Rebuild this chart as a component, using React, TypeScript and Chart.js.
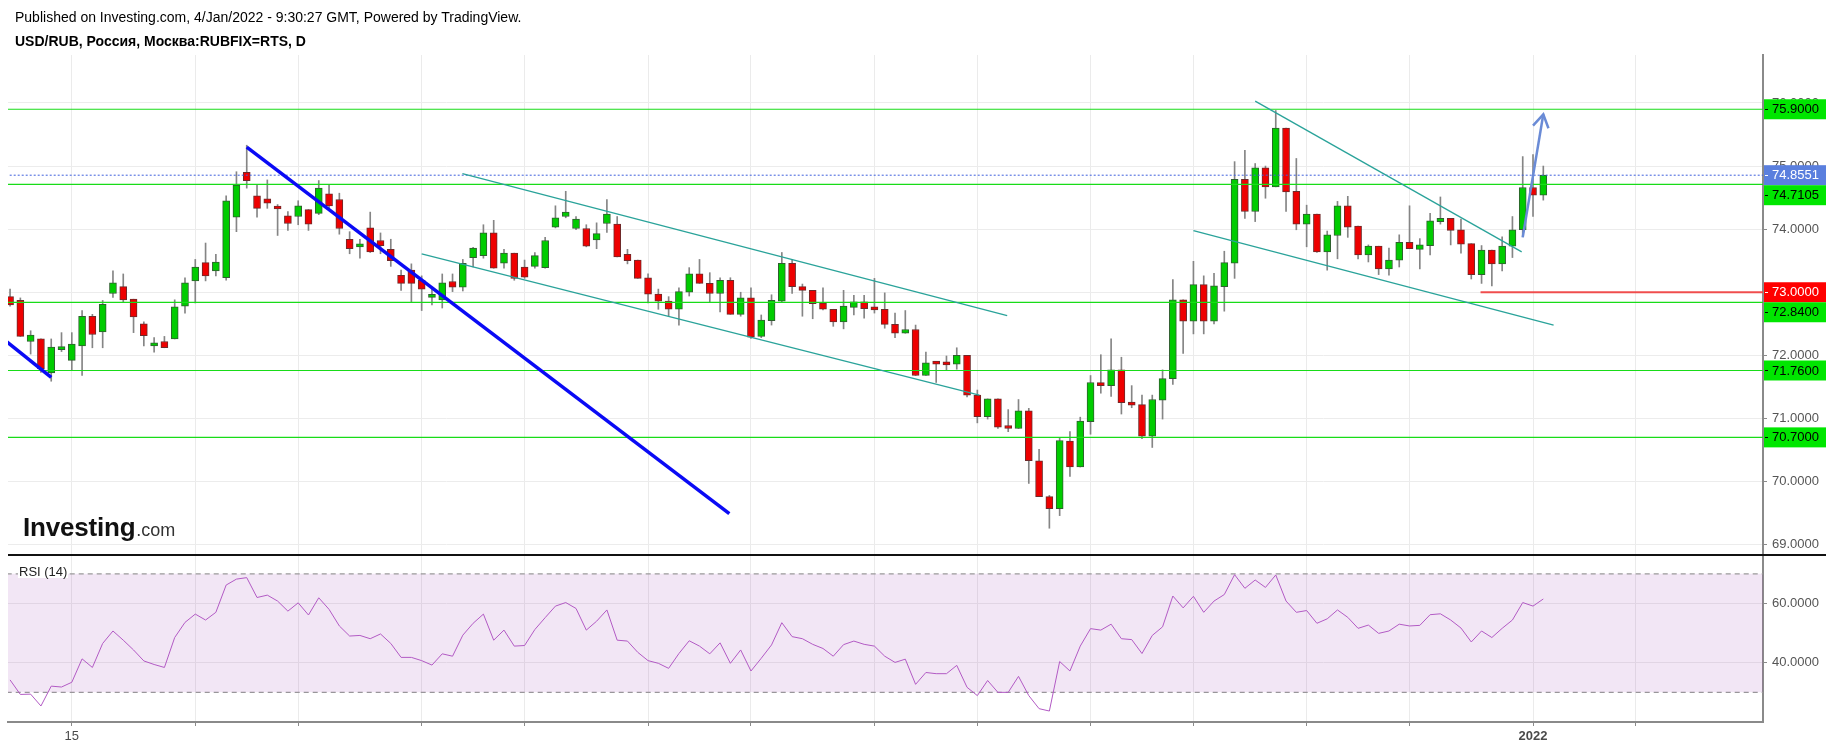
import React, { useEffect, useRef } from 'react';
import { Chart, registerables } from 'chart.js';

Chart.register(...registerables);

const FONT = '"Liberation Sans", Arial, Helvetica, sans-serif';

// ---------- data (daily candles, index 0 = first visible bar, last = 4 Jan 2022) ----------
const OPEN = [
  72.93, 72.87, 72.22, 72.26, 71.72, 72.09, 71.92, 72.15, 72.62, 72.37,
  72.98, 73.09, 72.89, 72.50, 72.15, 72.22, 72.26, 72.78, 73.18, 73.47,
  73.34, 73.23, 74.19, 74.90, 74.53, 74.48, 74.36, 74.21, 74.20, 74.31,
  74.25, 74.56, 74.47, 73.84, 73.72, 74.02, 73.82, 73.68, 73.27, 73.35,
  73.19, 72.92, 72.88, 73.17, 73.08, 73.55, 73.58, 73.94, 73.46, 73.62,
  73.40, 73.41, 73.39, 74.03, 74.20, 74.01, 74.01, 73.83, 74.09, 74.08,
  73.60, 73.51, 73.23, 72.97, 72.86, 72.73, 73.00, 73.29, 73.14, 72.98,
  73.19, 72.65, 72.91, 72.30, 72.55, 72.86, 73.46, 73.09, 73.03, 72.83,
  72.73, 72.53, 72.76, 72.85, 72.74, 72.73, 72.49, 72.35, 72.41, 71.68,
  71.88, 71.86, 71.86, 72.00, 71.37, 71.03, 71.31, 70.88, 70.84, 71.12,
  70.33, 69.76, 69.57, 70.64, 70.23, 70.95, 71.56, 71.52, 71.77, 71.25,
  71.22, 70.72, 71.29, 71.63, 72.88, 72.54, 73.12, 72.54, 73.09, 73.46,
  74.79, 74.28, 74.97, 74.67, 75.60, 74.60, 74.08, 74.24, 73.64, 73.90,
  74.37, 74.05, 73.59, 73.73, 73.37, 73.51, 73.79, 73.68, 73.74, 74.12,
  74.17, 73.99, 73.77, 73.28, 73.67, 73.45, 73.73, 73.99, 74.66, 74.54,
];
const HIGH = [
  73.05, 72.91, 72.39, 72.26, 72.26, 72.36, 72.36, 72.71, 72.65, 72.87,
  73.34, 73.29, 72.89, 72.53, 72.28, 72.30, 72.88, 73.23, 73.52, 73.78,
  73.60, 74.53, 74.91, 75.33, 74.70, 74.78, 74.39, 74.28, 74.45, 74.31,
  74.77, 74.70, 74.57, 73.96, 73.84, 74.27, 73.94, 73.84, 73.35, 73.45,
  73.26, 73.05, 73.29, 73.29, 73.52, 73.71, 74.07, 74.14, 73.68, 73.62,
  73.51, 73.63, 73.87, 74.37, 74.60, 74.20, 74.07, 74.10, 74.47, 74.20,
  73.68, 73.51, 73.29, 73.05, 72.93, 73.07, 73.39, 73.52, 73.31, 73.23,
  73.23, 73.00, 73.07, 72.64, 72.96, 73.63, 73.52, 73.13, 73.03, 73.07,
  72.73, 73.03, 72.95, 72.95, 73.22, 72.99, 72.67, 72.71, 72.48, 72.05,
  71.88, 71.99, 72.12, 72.00, 71.45, 71.31, 71.31, 71.14, 71.30, 71.16,
  70.51, 69.78, 70.69, 70.79, 71.02, 71.68, 72.01, 72.26, 71.97, 71.52,
  71.37, 71.37, 71.77, 73.20, 72.88, 73.49, 73.26, 73.30, 73.65, 75.07,
  75.25, 75.04, 75.00, 75.88, 75.60, 75.12, 74.38, 74.24, 73.97, 74.44,
  74.52, 74.05, 73.75, 73.73, 73.70, 73.91, 74.37, 73.85, 74.25, 74.51,
  74.17, 74.16, 73.77, 73.74, 73.67, 73.88, 74.20, 75.15, 75.18, 75.00,
];
const LOW = [
  72.78, 72.30, 72.02, 71.73, 71.59, 72.06, 71.76, 71.68, 72.12, 72.12,
  72.92, 72.85, 72.36, 72.15, 72.05, 72.12, 72.26, 72.67, 72.83, 73.18,
  73.26, 73.19, 73.96, 74.65, 74.19, 74.33, 73.90, 73.98, 74.07, 73.98,
  74.23, 74.33, 73.92, 73.61, 73.54, 73.63, 73.61, 73.41, 73.03, 72.85,
  72.71, 72.80, 72.75, 73.01, 73.02, 73.40, 73.54, 73.38, 73.38, 73.19,
  73.22, 73.38, 73.38, 74.02, 74.18, 73.99, 73.72, 73.69, 73.95, 73.56,
  73.45, 73.22, 72.83, 72.73, 72.62, 72.48, 72.94, 73.14, 72.84, 72.69,
  72.65, 72.62, 72.27, 72.28, 72.48, 72.85, 72.98, 72.62, 72.58, 72.72,
  72.46, 72.42, 72.64, 72.59, 72.67, 72.43, 72.28, 72.35, 71.68, 71.68,
  71.57, 71.76, 71.78, 71.34, 70.93, 70.99, 70.84, 70.79, 70.84, 69.97,
  69.76, 69.26, 69.46, 70.08, 70.23, 70.75, 71.40, 71.35, 71.07, 71.17,
  70.68, 70.54, 70.99, 71.54, 72.03, 72.34, 72.34, 72.50, 72.70, 73.22,
  74.17, 74.12, 74.49, 74.67, 74.28, 73.99, 73.72, 73.63, 73.35, 73.53,
  73.87, 73.53, 73.48, 73.28, 73.27, 73.40, 73.69, 73.37, 73.59, 74.08,
  73.75, 73.62, 73.21, 73.14, 73.10, 73.34, 73.55, 73.88, 74.20, 74.46,
];
const CLOSE = [
  72.80, 72.30, 72.32, 71.79, 72.13, 72.10, 72.18, 72.62, 72.33, 72.81,
  73.15, 72.88, 72.61, 72.31, 72.20, 72.12, 72.77, 73.15, 73.40, 73.26,
  73.48, 74.45, 74.70, 74.77, 74.33, 74.41, 74.32, 74.09, 74.37, 74.08,
  74.65, 74.37, 74.01, 73.69, 73.74, 73.64, 73.74, 73.50, 73.14, 73.14,
  73.05, 72.95, 73.15, 73.08, 73.46, 73.70, 73.94, 73.38, 73.62, 73.22,
  73.24, 73.58, 73.82, 74.18, 74.27, 74.16, 73.73, 73.93, 74.24, 73.56,
  73.50, 73.22, 72.97, 72.86, 72.73, 73.01, 73.29, 73.14, 72.98, 73.19,
  72.65, 72.91, 72.29, 72.56, 72.87, 73.46, 73.09, 73.03, 72.82, 72.73,
  72.53, 72.78, 72.85, 72.74, 72.72, 72.49, 72.35, 72.41, 71.68, 71.88,
  71.86, 71.85, 72.00, 71.37, 71.03, 71.31, 70.86, 70.84, 71.12, 70.33,
  69.76, 69.57, 70.65, 70.23, 70.96, 71.57, 71.52, 71.77, 71.25, 71.21,
  70.72, 71.30, 71.63, 72.88, 72.54, 73.12, 72.54, 73.10, 73.47, 74.79,
  74.28, 74.97, 74.67, 75.60, 74.59, 74.08, 74.24, 73.64, 73.91, 74.37,
  74.03, 73.59, 73.73, 73.37, 73.51, 73.79, 73.69, 73.75, 74.13, 74.17,
  73.98, 73.76, 73.28, 73.67, 73.45, 73.73, 73.99, 74.66, 74.54, 74.8551,
];
const RSI = [
  34.2, 29.3, 29.4, 25.4, 32.1, 31.8, 33.4, 41.3, 38.4, 46.5,
  50.7, 47.6, 44.3, 40.6, 39.4, 38.4, 48.5, 53.6, 56.4, 54.4,
  57.0, 66.2, 68.2, 68.7, 62.0, 62.8, 60.8, 57.4, 60.2, 56.1,
  61.9, 58.0, 52.4, 49.0, 49.2, 48.1, 49.7, 46.5, 41.8, 41.8,
  40.7, 39.2, 43.0, 42.2, 49.3, 53.3, 56.4, 47.6, 51.0, 45.6,
  45.8, 51.2, 55.2, 59.1, 60.3, 58.3, 51.0, 54.0, 57.8, 47.6,
  47.3, 43.5, 40.7, 39.8, 38.1, 43.1, 47.4, 45.6, 43.0, 46.7,
  39.8, 44.3, 37.2, 41.5, 46.0, 53.5, 48.8, 48.1, 46.2, 44.8,
  42.2, 46.1, 47.3, 46.2, 45.6, 42.2, 40.1, 41.2, 32.7, 36.7,
  36.3, 36.3, 39.1, 31.7, 28.9, 34.0, 30.0, 30.0, 35.4, 28.9,
  24.5, 23.7, 40.4, 37.2, 45.6, 51.5, 51.0, 53.0, 48.1, 47.8,
  43.1, 49.2, 52.1, 62.5, 58.5, 62.4, 57.0, 60.8, 63.0, 69.7,
  65.1, 67.9, 65.4, 69.6, 60.8, 57.0, 57.6, 53.3, 54.8, 57.8,
  55.3, 51.6, 52.7, 49.9, 50.7, 53.0, 52.4, 52.6, 56.2, 56.5,
  54.4, 51.7, 47.0, 50.7, 48.5, 51.6, 54.4, 60.3, 59.1, 61.5,
];

// x-axis grid (bar index) and labels
const X_TICKS = [6, 18, 28, 40, 50, 62, 72, 84, 94, 105, 115, 126, 136, 148, 158];
const X_TICK_LABELS: Record<number, string> = { 6: '15', 148: '2022' };
const YEAR_TICK = 148;
const PRICE_TICKS = [69, 70, 71, 72, 73, 74, 75, 76];
const RSI_TICKS = [40, 60];
const RSI_UPPER = 70;
const RSI_LOWER = 30;

// drawn levels
const SUPPORT_LEVELS = [75.9, 74.7105, 72.84, 71.76, 70.7];
const LAST_PRICE = 74.8551;
const ALERT_LEVEL = 73.0;
const ALERT_START = 142.9;

// drawings: [barIndex, price]
const BLUE_TREND_1: number[][] = [[-0.6, 72.25], [4.0, 71.65]];
const BLUE_TREND_2: number[][] = [[23.0, 75.3], [69.9, 69.49]];
const CHANNEL_UPPER: number[][] = [[43.96, 74.88], [96.9, 72.63]];
const CHANNEL_LOWER: number[][] = [[40.0, 73.61], [94.2, 71.37]];
const WEDGE_UPPER: number[][] = [[121.0, 76.03], [146.9, 73.64]];
const WEDGE_LOWER: number[][] = [[115.0, 73.975], [150.0, 72.48]];
const ARROW_SHAFT: number[][] = [[147.0, 73.87], [149.0, 75.82]];
const ARROW_HEAD: number[][] = [[148.0, 75.64], [149.0, 75.82], [149.5, 75.6]];

// view ranges
const X_MIN = -0.2;
const X_MAX = 170.35;
const PRICE_MIN = 68.82;
const PRICE_MAX = 76.76;
const RSI_MIN = 20;
const RSI_MAX = 76;

const W = 1833;
const PRICE_H = 556;
const RSI_H = 194;
const AXIS_W = 70;

const GREEN = '#18dc18';

function xAxis(labels: boolean): any {
  return {
    type: 'linear',
    min: X_MIN,
    max: X_MAX,
    offset: false,
    afterBuildTicks: (s: any) => {
      s.ticks = X_TICKS.map((v) => ({ value: v }));
    },
    afterFit: (s: any) => {
      s.height = labels ? 28 : 0;
      s.paddingLeft = 0;
      s.paddingRight = 0;
    },
    grid: {
      color: '#ebebeb',
      lineWidth: 1,
      offset: false,
      drawTicks: labels,
      tickLength: 4,
      tickColor: '#8a8a8a',
    },
    border: { display: labels, color: '#8a8a8a', width: 2 },
    ticks: {
      display: labels,
      autoSkip: false,
      maxRotation: 0,
      padding: 3,
      color: '#4a4a4a',
      font: (ctx: any) => ({
        family: FONT,
        size: 13,
        weight: ctx.tick && ctx.tick.value === YEAR_TICK ? 'bold' : 'normal',
      }),
      callback: (v: any) => X_TICK_LABELS[Number(v)] ?? '',
    },
  };
}

function yAxis(min: number, max: number, ticks: number[]): any {
  return {
    position: 'right',
    min,
    max,
    afterBuildTicks: (s: any) => {
      s.ticks = ticks.map((v) => ({ value: v }));
    },
    afterFit: (s: any) => {
      s.width = AXIS_W;
      s.paddingTop = 0;
      s.paddingBottom = 0;
    },
    grid: { color: '#ececec', tickLength: 4, tickColor: '#8a8a8a' },
    border: { color: '#8a8a8a', width: 2 },
    ticks: {
      padding: 5,
      color: '#555555',
      font: { family: FONT, size: 13 },
      callback: (v: any) => Number(v).toFixed(4),
    },
  };
}

function lineDs(pts: number[][], color: string, width: number, extra: any = {}): any {
  return {
    type: 'line',
    data: pts.map(([x, y]) => ({ x, y })),
    borderColor: color,
    borderWidth: width,
    pointRadius: 0,
    fill: false,
    tension: 0,
    order: 1,
    ...extra,
  };
}

const boxPlugin = {
  id: 'priceBoxes',
  afterDraw(chart: any) {
    const { ctx, chartArea, scales } = chart;
    const y = scales.y;
    ctx.save();
    // pane separator
    ctx.strokeStyle = '#111111';
    ctx.lineWidth = 2;
    ctx.beginPath();
    ctx.moveTo(8, chartArea.bottom - 1);
    ctx.lineTo(1826, chartArea.bottom - 1);
    ctx.stroke();

    const boxes = [
      ...SUPPORT_LEVELS.map((v) => ({ v, bg: '#00e600', fg: '#000000' })),
      { v: LAST_PRICE, bg: '#5a7fde', fg: '#ffffff' },
      { v: ALERT_LEVEL, bg: '#ff0000', fg: '#ffffff' },
    ].sort((a, b) => b.v - a.v);
    ctx.font = `13px ${FONT}`;
    ctx.textBaseline = 'middle';
    ctx.textAlign = 'left';
    let prevBottom = -Infinity;
    for (const b of boxes) {
      let cy = y.getPixelForValue(b.v);
      if (cy - 10 < prevBottom) cy = prevBottom + 10;
      prevBottom = cy + 10;
      const x0 = chartArea.right + 1;
      ctx.fillStyle = b.bg;
      ctx.fillRect(x0, cy - 10, 1826 - x0, 20);
      ctx.fillStyle = b.fg;
      ctx.fillRect(x0 + 1, Math.round(cy), 3, 1);
      ctx.fillText(b.v.toFixed(4), chartArea.right + 9, cy + 0.5);
    }
    ctx.restore();
  },
};

function priceConfig(): any {
  const idx = OPEN.map((_, i) => i);
  const up = idx.map((i) => CLOSE[i] >= OPEN[i]);
  return {
    type: 'bar',
    data: {
      datasets: [
        {
          type: 'bar',
          data: idx.map((i) => ({ x: i, y: [LOW[i], HIGH[i]] })),
          backgroundColor: '#858585',
          borderWidth: 0,
          barThickness: 1,
          grouped: false,
          clip: 0,
          order: 11,
        },
        {
          type: 'bar',
          data: idx.map((i) => ({ x: i, y: [OPEN[i], CLOSE[i]] })),
          backgroundColor: up.map((u) => (u ? '#00cc00' : '#ee0000')),
          borderColor: up.map((u) => (u ? '#2f5f2f' : '#6e2a2a')),
          borderWidth: 1,
          borderSkipped: false,
          barThickness: 7,
          minBarLength: 3,
          grouped: false,
          clip: 0,
          order: 10,
        },
        ...SUPPORT_LEVELS.map((v) => lineDs([[X_MIN - 1, v], [X_MAX + 1, v]], GREEN, 1.2, { order: 5 })),
        lineDs([[X_MIN - 1, LAST_PRICE], [X_MAX + 1, LAST_PRICE]], '#3d5fdc', 1, { borderDash: [2, 2], order: 4 }),
        lineDs([[ALERT_START, ALERT_LEVEL], [X_MAX + 1, ALERT_LEVEL]], 'rgba(240,60,60,0.9)', 2, { order: 4 }),
        lineDs(BLUE_TREND_1, '#0a0af5', 3.5),
        lineDs(BLUE_TREND_2, '#0a0af5', 3.5),
        lineDs(CHANNEL_UPPER, '#2aa39a', 1.3),
        lineDs(CHANNEL_LOWER, '#2aa39a', 1.3),
        lineDs(WEDGE_UPPER, '#2aa39a', 1.3),
        lineDs(WEDGE_LOWER, '#2aa39a', 1.3),
        lineDs(ARROW_SHAFT, '#6a8bd6', 2.5, { order: 0 }),
        lineDs(ARROW_HEAD, '#6a8bd6', 2.5, { order: 0 }),
      ],
    },
    options: {
      responsive: false,
      animation: false,
      events: [],
      layout: { padding: { left: 8, top: 55, right: 0, bottom: 0 } },
      plugins: { legend: { display: false }, tooltip: { enabled: false } },
      scales: {
        x: xAxis(false),
        y: yAxis(PRICE_MIN, PRICE_MAX, PRICE_TICKS),
      },
    },
    plugins: [boxPlugin],
  };
}

function rsiConfig(): any {
  return {
    type: 'line',
    data: {
      datasets: [
        lineDs(RSI.map((v, i) => [i, v]), '#b25ac4', 1, { order: 0 }),
        lineDs([[X_MIN - 1, RSI_UPPER], [X_MAX + 1, RSI_UPPER]], '#9a9a9a', 1.2, {
          borderDash: [5, 4],
          fill: '+1',
          backgroundColor: 'rgba(150, 50, 175, 0.12)',
          order: 2,
        }),
        lineDs([[X_MIN - 1, RSI_LOWER], [X_MAX + 1, RSI_LOWER]], '#9a9a9a', 1.2, {
          borderDash: [5, 4],
          order: 2,
        }),
      ],
    },
    options: {
      responsive: false,
      animation: false,
      events: [],
      layout: { padding: { left: 8, top: 0, right: 0, bottom: 0 } },
      plugins: { legend: { display: false }, tooltip: { enabled: false } },
      scales: {
        x: xAxis(true),
        y: yAxis(RSI_MIN, RSI_MAX, RSI_TICKS),
      },
    },
  };
}

export default function App() {
  const priceRef = useRef<HTMLCanvasElement>(null);
  const rsiRef = useRef<HTMLCanvasElement>(null);

  useEffect(() => {
    const c1 = new Chart(priceRef.current as HTMLCanvasElement, priceConfig());
    const c2 = new Chart(rsiRef.current as HTMLCanvasElement, rsiConfig());
    return () => {
      c1.destroy();
      c2.destroy();
    };
  }, []);

  return (
    <div
      style={{
        position: 'absolute',
        left: 0,
        top: 0,
        width: W,
        height: 750,
        background: '#ffffff',
        overflow: 'hidden',
        fontFamily: FONT,
      }}
    >
      <canvas
        ref={priceRef}
        width={W}
        height={PRICE_H}
        style={{ position: 'absolute', left: 0, top: 0, width: W, height: PRICE_H, display: 'block' }}
      />
      <canvas
        ref={rsiRef}
        width={W}
        height={RSI_H}
        style={{ position: 'absolute', left: 0, top: PRICE_H, width: W, height: RSI_H, display: 'block' }}
      />
      <div style={{ position: 'absolute', left: 15, top: 9, fontSize: 14, lineHeight: '17px', color: '#000' }}>
        Published on Investing.com, 4/Jan/2022 - 9:30:27 GMT, Powered by TradingView.
      </div>
      <div
        style={{ position: 'absolute', left: 15, top: 32.5, fontSize: 14, lineHeight: '17px', fontWeight: 'bold', color: '#000' }}
      >
        USD/RUB, Россия, Москва:RUBFIX=RTS, D
      </div>
      <div
        style={{
          position: 'absolute',
          left: 23,
          top: 514,
          lineHeight: '26px',
          whiteSpace: 'nowrap',
          display: 'flex',
          alignItems: 'baseline',
        }}
      >
        <span style={{ fontSize: 26, fontWeight: 'bold', letterSpacing: '-0.2px', color: '#111' }}>Investing</span>
        <span style={{ fontSize: 18, color: '#333', marginLeft: 1 }}>.com</span>
      </div>
      <div
        style={{
          position: 'absolute',
          left: 18,
          top: 565,
          fontSize: 13,
          lineHeight: '13px',
          color: '#222',
          background: '#ffffff',
          padding: '0 1px',
        }}
      >
        RSI (14)
      </div>
    </div>
  );
}
